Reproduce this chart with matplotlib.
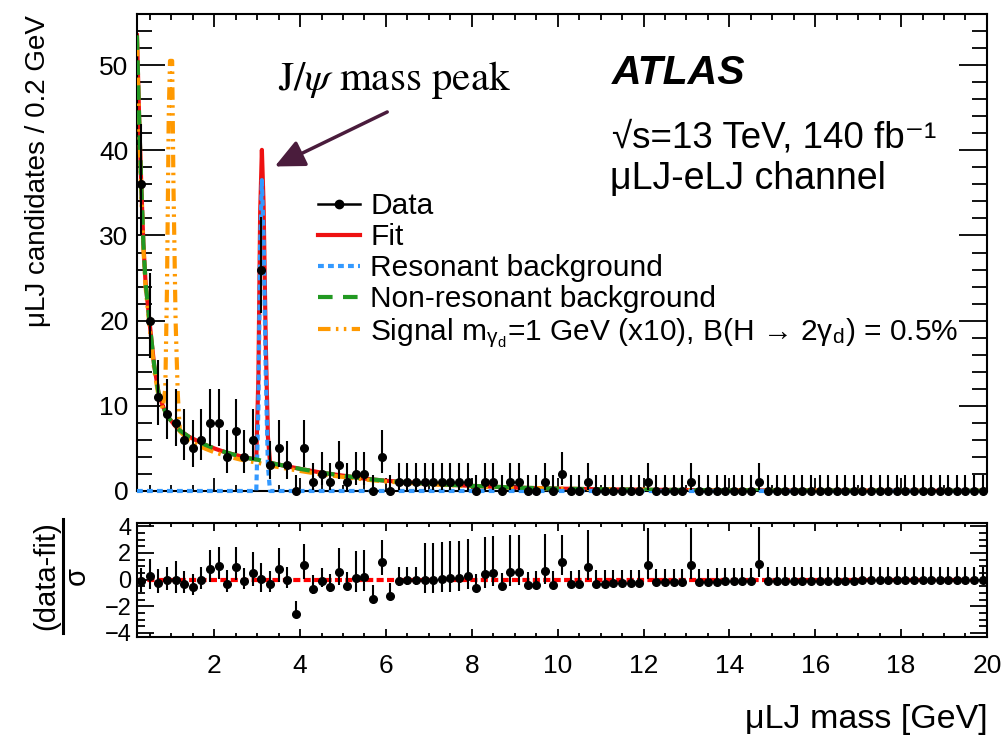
import matplotlib
matplotlib.use("Agg")
import matplotlib.pyplot as plt
from matplotlib.lines import Line2D
from matplotlib.ticker import MultipleLocator
import numpy as np

plt.rcParams['font.family'] = ['Liberation Sans', 'DejaVu Sans']
plt.rcParams['mathtext.fontset'] = 'custom'
plt.rcParams['mathtext.rm'] = 'Liberation Sans'
plt.rcParams['mathtext.it'] = 'STIXGeneral:italic'
plt.rcParams['mathtext.bf'] = 'Liberation Sans:bold'

# data: candidates per 0.2 GeV bin, bins from 0.2 to 20 GeV
bin_width = 0.2
mass = np.round(np.arange(0.3, 20.0, bin_width), 1)
counts = [36, 20, 11, 9, 8, 6, 5, 6, 8, 8,
          4, 7, 4, 6, 26, 3, 5, 3, 0, 5,
          1, 2, 1, 3, 1, 2, 2, 0, 4, 0,
          1, 1, 1, 1, 1, 1, 1, 1, 1, 0,
          1, 1, 0, 1, 1, 0, 0, 1, 0, 2,
          0, 0, 1, 0, 0, 0, 0, 0, 0, 1,
          0, 0, 0, 0, 1, 0, 0, 0, 0, 0,
          0, 0, 1, 0, 0, 0, 0, 0, 0, 0,
          0, 0, 0, 0, 0, 0, 0, 0, 0, 0,
          0, 0, 0, 0, 0, 0, 0, 0, 0]
# (data-fit)/sigma
resid = [-0.1, 0.27, -0.23, -0.05, 0.0, -0.35, -0.55, -0.05, 0.83, 1.03,
         -0.3, 0.95, -0.1, 0.53, 0.05, -0.35, 0.8, -0.05, -2.6, 1.08,
         -0.68, -0.1, -0.55, 0.58, -0.45, 0.1, 0.18, -1.43, 1.33, -1.24,
         -0.08, -0.03, -0.03, 0.0, 0.0, 0.05, 0.1, 0.15, 0.3, -0.6,
         0.4, 0.5, -0.5, 0.55, 0.6, -0.4, -0.38, 0.65, -0.38, 1.33,
         -0.33, -0.3, 0.95, -0.3, -0.3, -0.25, -0.25, -0.25, -0.25, 1.08,
         -0.2, -0.2, -0.2, -0.2, 1.08, -0.2, -0.2, -0.15, -0.12, -0.12,
         -0.12, -0.1, 1.2, -0.08, -0.08, -0.08, -0.08, -0.08, -0.08, -0.08,
         -0.08, -0.08, -0.08, -0.08, -0.05, -0.05, -0.05, -0.05, -0.05, -0.05,
         -0.05, -0.05, -0.05, -0.05, -0.05, -0.05, -0.05, -0.05, -0.05]

# fitted curves
curve_x = [0.2, 0.25, 0.3, 0.35, 0.4, 0.5, 0.6, 0.7, 0.8, 0.86,
           0.9, 0.94, 0.97, 1.02, 1.05, 1.1, 1.15, 1.2, 1.4, 1.6,
           1.8, 2.0, 2.2, 2.4, 2.6, 2.8, 2.98, 3.03, 3.07, 3.11,
           3.15, 3.2, 3.25, 3.3, 3.4, 3.6, 4.0, 4.5, 5.0, 5.5,
           6.0, 7.0, 8.0, 9.0, 10.0, 11.0, 12.0, 13.0, 14.0, 15.0,
           16.0, 17.0, 18.0, 19.0, 20.0]
nonres_bkg = [53.5, 44, 36, 29, 24.5, 19.5, 14.8, 11.6, 10.0, 9.3,
              8.9, 8.6, 8.4, 8.1, 7.9, 7.6, 7.3, 7.1, 6.4, 5.9,
              5.4, 5.0, 4.65, 4.35, 4.1, 3.85, 3.7, 3.65, 3.6, 3.55,
              3.5, 3.45, 3.4, 3.35, 3.2, 3.0, 2.6, 2.15, 1.8, 1.45,
              1.2, 0.85, 0.6, 0.4, 0.28, 0.2, 0.15, 0.11, 0.08, 0.06,
              0.05, 0.04, 0.03, 0.02, 0.02]
res_bkg = [0, 0, 0, 0, 0, 0, 0, 0, 0, 0,
           0, 0, 0, 0, 0, 0, 0, 0, 0, 0,
           0, 0, 0, 0, 0, 0, 0, 10, 29, 36.5,
           30, 14, 3, 0, 0, 0, 0, 0, 0, 0,
           0, 0, 0, 0, 0, 0, 0, 0, 0, 0,
           0, 0, 0, 0, 0]
signal = [52.5, 43, 35, 28.5, 24, 19, 14.3, 11.2, 9.7, 12,
          24, 44, 50.5, 50.5, 36, 20, 11.5, 7.0, 6.0, 5.4,
          4.95, 4.55, 4.25, 3.95, 3.7, 3.5, 3.35, 3.3, 3.25, 3.2,
          3.15, 3.1, 3.05, 3.0, 2.9, 2.7, 2.35, 1.95, 1.65, 1.35,
          1.1, 0.8, 0.55, 0.38, 0.27, 0.19, 0.14, 0.1, 0.08, 0.06,
          0.05, 0.04, 0.03, 0.02, 0.02]
fit = np.array(nonres_bkg) + np.array(res_bkg)

labels = ['Data', 'Fit', 'Resonant background', 'Non-resonant background',
          r'Signal m$_{\mathrm{\gamma_{d}}}$=1 GeV (x10), B(H → 2γ$_{\mathrm{d}}$) = 0.5%']


def poisson_errors(n):
    n = np.asarray(n, float)
    nn = np.maximum(n, 1)
    lo = np.where(n > 0, n - n * (1 - 1 / (9 * nn) - 1 / (3 * np.sqrt(nn))) ** 3, 0.0)
    m = n + 1
    hi = m * (1 - 1 / (9 * m) + 1 / (3 * np.sqrt(m))) ** 3 - n
    return lo, hi


err_lo, err_hi = poisson_errors(counts)
resid = np.array(resid)
safe_lo = np.where(err_lo > 0, err_lo, 1.0)
r_lo = np.where(resid >= 0, 1.0, err_lo / err_hi)
r_hi = np.where(resid >= 0, err_hi / safe_lo, 1.0)

red = '#ee1111'
blue = '#3399ff'
green = '#229922'
orange = '#ff9900'
sig_dash = (3.0, 1.3, 0.6, 1.3, 0.6, 1.3)

fig = plt.figure(figsize=(10.07, 7.38), dpi=100)
ax = fig.add_axes([0.1360, 0.3347, 0.8441, 0.6463])
rax = fig.add_axes([0.1360, 0.1369, 0.8441, 0.1545])

ax.plot(curve_x, fit, color=red, lw=3, zorder=2)
ax.plot(curve_x, signal, color=orange, lw=3, dashes=sig_dash, zorder=3)
ax.plot(curve_x, res_bkg, color=blue, lw=3, dashes=(1.4, 1.0), zorder=4, clip_on=False)
ax.plot(curve_x, nonres_bkg, color=green, lw=3, dashes=(3.5, 2.5), zorder=5)
eb = ax.errorbar(mass, counts, yerr=[err_lo, err_hi], fmt='o', color='k', ms=5.5,
                 elinewidth=1.5, capsize=0, zorder=6)
for art in eb.get_children():
    art.set_clip_on(False)

handles = [Line2D([], [], color='k', marker='o', ms=6, lw=1.8),
           Line2D([], [], color=red, lw=3),
           Line2D([], [], color=blue, lw=3, dashes=(1.4, 1.0)),
           Line2D([], [], color=green, lw=3, dashes=(3.5, 2.5)),
           Line2D([], [], color=orange, lw=3, dashes=sig_dash)]
ax.legend(handles, labels, loc='upper left', bbox_to_anchor=(318 / 1007, 1 - 192 / 738),
          bbox_transform=fig.transFigure, frameon=False, fontsize=21.5,
          handlelength=1.4, handletextpad=0.35, labelspacing=0.1,
          borderpad=0, borderaxespad=0)

ax.set_xlim(0.2, 20)
ax.set_ylim(0, 56)
ax.xaxis.set_major_locator(MultipleLocator(2))
ax.xaxis.set_minor_locator(MultipleLocator(0.5))
ax.yaxis.set_major_locator(MultipleLocator(10))
ax.yaxis.set_minor_locator(MultipleLocator(2))
ax.tick_params(which='both', direction='in', top=True, right=True, labelbottom=False,
               labelsize=19, width=1.3)
ax.tick_params(axis='y', which='major', length=20, pad=6)
ax.tick_params(axis='y', which='minor', length=11)
ax.tick_params(axis='x', which='major', length=9.5)
ax.tick_params(axis='x', which='minor', length=4.5)

ax.annotate('', xy=(3.41, 38.1), xytext=(6.03, 44.5),
            arrowprops=dict(arrowstyle='-|>,head_length=0.6,head_width=0.28',
                            mutation_scale=30, lw=2.5, color='#4a1c3c',
                            shrinkA=0, shrinkB=0))
fig.text(0.276, 1 - 90 / 738, r'J/$\psi$ mass peak', fontfamily='STIXGeneral', fontsize=29.5)

fig.text(0.6077, 1 - 84 / 738, 'ATLAS', fontsize=29.5, fontweight='bold', fontstyle='italic')
fig.text(0.6077, 1 - 147 / 738, '√s=13 TeV, 140 fb⁻¹', fontsize=26.5)
fig.text(0.6057, 1 - 189 / 738, 'μLJ-eLJ channel', fontsize=27)

# ratio panel
rax.axhline(0, color='red', lw=3, dashes=(1.7, 0.8), zorder=2)
reb = rax.errorbar(mass, resid, yerr=[r_lo, r_hi], fmt='o', color='k', ms=5.5,
                   elinewidth=1.5, capsize=0, zorder=3)
rax.set_xlim(0.2, 20)
rax.set_ylim(-4.3, 4.25)
rax.xaxis.set_major_locator(MultipleLocator(2))
rax.xaxis.set_minor_locator(MultipleLocator(0.5))
rax.yaxis.set_major_locator(MultipleLocator(2))
rax.yaxis.set_minor_locator(MultipleLocator(0.5))
rax.tick_params(which='both', direction='in', top=True, right=True, width=1.3)
rax.tick_params(axis='x', labelsize=19, pad=12)
rax.tick_params(axis='y', labelsize=17, pad=4)
rax.tick_params(axis='y', which='major', length=12)
rax.tick_params(axis='y', which='minor', length=6)
rax.tick_params(axis='x', which='major', length=6)
rax.tick_params(axis='x', which='minor', length=3)

for a in (ax, rax):
    for s in a.spines.values():
        s.set_linewidth(1.5)

fig.text(988 / 1007, 1 - 728 / 738, 'μLJ mass [GeV]', fontsize=24.5, ha='right', va='baseline')
fig.text(38 / 1007, 1 - 15 / 738, 'μLJ candidates / 0.2 GeV', fontsize=20,
         rotation=90, ha='center', va='top')
fig.text(46 / 1007, 1 - 576 / 738, '(data-fit)', fontsize=21, rotation=90,
         ha='center', va='center')
fig.add_artist(Line2D([63 / 1007, 63 / 1007], [1 - 519 / 738, 1 - 633 / 738],
                      color='k', lw=2.2, transform=fig.transFigure))
fig.text(77 / 1007, 1 - 576 / 738, 'σ', fontsize=21, rotation=90,
         ha='center', va='center')

fig.savefig('out.png', dpi=100)
